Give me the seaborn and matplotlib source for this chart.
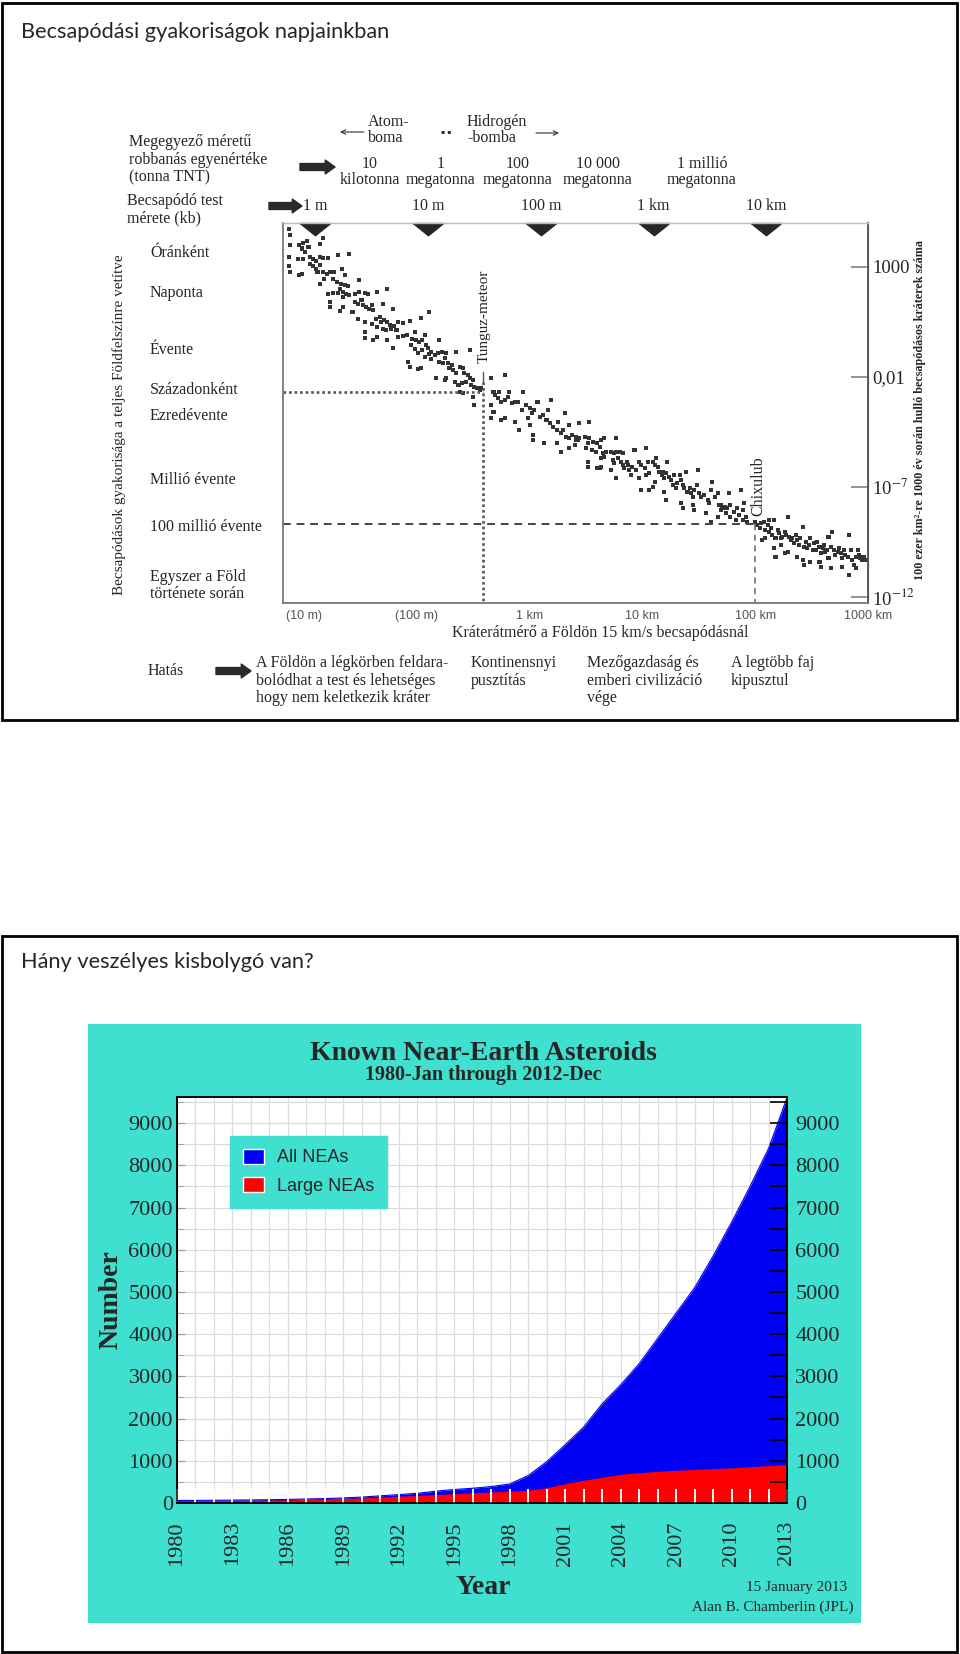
import numpy as np
import pandas as pd
import matplotlib
matplotlib.use("Agg")
import matplotlib.pyplot as plt
import seaborn as sns
from matplotlib.patches import Rectangle, Patch
from matplotlib.transforms import blended_transform_factory
from matplotlib.ticker import MultipleLocator, FixedLocator, NullLocator

sns.set_style("white")
plt.rcParams['font.family'] = ['Liberation Serif', 'DejaVu Serif']
plt.rcParams['mathtext.fontset'] = 'stix'

# ---------------- Panel 1 data: impact-frequency cloud ----------------
# (log10 crater diameter [m], log10 impacts per year)
cloud_small = [(0.87,5.42),(0.88,5.12),(0.88,4.70),(0.87,4.14),(0.87,3.73),(0.88,3.45),(0.96,4.67),(0.99,4.79),(1.03,4.85),(1.04,4.59),(0.98,4.52),(1.01,4.36),(0.95,4.06),(0.99,4.06),(1.05,4.14),(1.08,4.06),(1.11,3.94),(1.14,4.14),(1.17,4.09),(1.21,4.09),(1.30,4.21),(1.40,4.29),(1.14,4.74),(1.17,5.00),(0.98,3.38),(0.96,3.30),(1.05,3.83),(1.08,3.73),(1.11,3.61),(1.14,3.76),(1.12,3.45),(1.17,3.45),(1.20,3.38),(1.23,3.45),(1.27,3.45),(1.34,3.61),(1.36,3.30),(1.26,3.15),(1.29,3.00),(1.33,2.92),(1.36,2.85),(1.39,2.82),(1.14,2.92),(1.18,3.15),(1.21,2.47),(1.26,2.52),(1.30,2.52),(1.32,2.70),(1.35,2.55),(1.37,2.47),(1.40,2.42),(1.45,2.47),(1.49,2.55),(1.54,2.52),(1.57,2.47),(1.65,2.55),(1.74,2.67),(1.49,3.11),(1.35,2.32),(1.23,2.09),(1.23,1.86),(1.32,1.67),(1.35,1.86),(1.45,2.09),(1.48,2.02),(1.51,2.17),(1.52,1.94),(1.55,1.86),(1.58,1.79),(1.61,1.71),(1.60,1.97),(1.70,2.02),(1.79,1.76),(1.43,1.64),(1.48,1.30),(1.54,1.18),(1.60,1.11),(1.64,1.33),(1.67,1.41),(1.68,1.18),(1.71,1.26),(1.74,1.18),(1.76,1.03),(1.77,0.88),(1.80,1.00),(1.82,0.80),(1.83,1.18),(1.88,1.15),(1.94,1.21),(2.04,1.36),(2.11,1.64),(1.65,0.95),(1.70,0.85),(1.73,0.80),(1.54,0.73),(1.54,0.45),(1.61,0.35),(1.65,0.50),(1.74,0.35),(1.79,0.00),(1.83,0.50),(1.88,0.53),(1.91,0.61),(1.96,0.42),(1.98,0.73),(1.99,0.35),(2.02,0.27),(2.05,0.35),(2.07,0.58),(2.08,0.12),(1.95,0.12),(1.98,-0.03),(2.01,-0.21),(2.05,-0.11),(2.10,0.00),(2.11,-0.26),(2.07,-0.41),(1.92,-0.64),(1.94,-0.86),(2.01,-0.97),(2.04,-0.91),(2.13,-0.48)]
cloud_tunguska = [(2.20,0.36),(2.13,-0.17),(2.16,-0.32),(2.19,-0.24),(2.22,-0.17),(2.26,-0.24),(2.25,-0.47),(2.20,-0.62),(2.23,-0.70),(2.28,-0.70),(2.31,-0.77),(2.29,-0.92),(2.32,-1.00),(2.35,-1.15),(2.38,-0.85),(2.41,-0.92),(2.42,-1.15),(2.45,-1.23),(2.47,-1.38),(2.50,-1.45),(2.44,-1.53),(2.40,-1.61),(2.37,-1.68),(2.34,-1.53),(2.26,-1.38),(2.17,-1.38),(2.25,-1.45),(2.47,-0.09),(2.35,-0.17),(2.48,-1.68),(2.51,-1.76),(2.53,-1.83),(2.56,-1.91),(2.57,-1.83),(2.50,-2.21),(2.51,-2.59),(2.41,-2.06),(2.38,-1.98),(2.66,-1.38),(2.78,-1.23),(2.68,-1.98),(2.69,-2.14),(2.72,-2.29),(2.73,-1.98),(2.75,-2.44),(2.78,-2.36),(2.81,-2.21),(2.82,-1.98),(2.84,-2.52),(2.87,-2.44),(2.90,-2.44),(2.93,-2.82),(2.94,-1.98),(2.97,-2.59),(3.00,-2.74),(3.02,-2.97),(3.04,-2.82),(3.07,-2.44),(3.09,-3.12),(3.12,-3.05),(3.15,-3.27),(3.16,-2.82),(3.19,-2.36),(3.18,-3.42),(3.21,-3.58),(3.24,-3.73),(3.25,-3.35),(3.28,-3.88),(3.30,-3.73),(3.31,-2.97),(3.32,-4.03),(3.35,-4.11),(3.38,-3.95),(3.41,-4.03),(3.35,-3.50),(3.43,-4.18),(2.66,-2.59),(2.68,-2.89),(2.66,-3.20),(2.75,-3.27),(2.78,-3.20),(2.87,-3.35),(2.91,-3.73),(2.99,-3.20),(3.00,-3.50),(3.03,-3.95),(3.03,-4.18),(3.13,-4.33),(3.24,-4.33),(3.28,-4.71),(3.35,-4.56),(3.40,-4.41)]
cloud_km = [(3.44,-3.42),(3.53,-3.38),(3.41,-4.18),(3.44,-4.11),(3.49,-4.03),(3.53,-4.11),(3.52,-4.33),(3.56,-4.26),(3.60,-4.33),(3.63,-4.18),(3.66,-4.11),(3.50,-4.56),(3.55,-4.64),(3.59,-4.71),(3.62,-4.48),(3.65,-4.79),(3.66,-4.94),(3.63,-5.02),(3.68,-4.71),(3.52,-5.17),(3.52,-5.39),(3.60,-5.47),(3.63,-5.39),(3.72,-4.71),(3.75,-4.79),(3.77,-4.71),(3.80,-4.71),(3.83,-4.79),(3.77,-4.11),(3.74,-5.09),(3.75,-5.24),(3.78,-5.02),(3.81,-5.17),(3.83,-5.32),(3.84,-5.47),(3.86,-5.17),(3.87,-5.32),(3.88,-5.55),(3.91,-5.39),(3.94,-5.55),(3.93,-4.64),(4.03,-4.56),(3.97,-5.17),(3.99,-5.32),(4.02,-5.47),(4.05,-5.17),(4.06,-5.70),(4.09,-5.17),(4.11,-5.32),(4.12,-5.02),(4.14,-5.39),(4.15,-5.62),(4.17,-5.77),(4.18,-5.62),(4.19,-5.92),(4.21,-5.70),(4.22,-5.17),(4.24,-5.85),(4.25,-6.00),(4.27,-6.23),(4.28,-5.77),(4.30,-6.38),(4.31,-6.15),(4.33,-5.77),(4.34,-6.00),(4.36,-6.23),(4.37,-6.38),(4.39,-5.62),(4.40,-6.53),(4.42,-6.38),(4.43,-6.61),(4.45,-6.76),(4.46,-6.45),(4.48,-6.23),(4.49,-5.55),(4.50,-6.61),(4.52,-6.76),(4.55,-6.68),(4.58,-6.91),(4.59,-7.06),(4.61,-6.45),(4.62,-6.08),(4.64,-6.76),(4.67,-6.61),(4.68,-7.14),(4.70,-7.36),(4.71,-7.29),(3.97,-5.92),(3.99,-6.45),(4.06,-6.45),(4.09,-6.30),(4.19,-6.53),(4.21,-6.91),(4.34,-7.06),(4.36,-7.29),(4.45,-7.14),(4.46,-7.36),(4.56,-7.52),(4.61,-7.89),(4.67,-7.67),(3.77,-5.92),(3.62,-5.47),(3.72,-5.55),(3.90,-5.77),(4.03,-5.77),(4.11,-6.08)]
cloud_large = [(4.70,-7.14),(4.73,-7.21),(4.75,-7.29),(4.78,-7.14),(4.77,-6.61),(4.81,-7.44),(4.84,-7.29),(4.87,-6.45),(4.86,-7.59),(4.89,-7.36),(4.90,-7.06),(4.92,-7.67),(4.93,-7.89),(4.89,-7.82),(4.83,-7.82),(4.78,-7.67),(4.74,-7.52),(5.00,-7.89),(5.02,-8.05),(5.04,-8.20),(5.05,-7.97),(5.08,-7.89),(5.09,-8.27),(5.11,-8.05),(5.12,-8.35),(5.14,-8.20),(5.15,-8.50),(5.17,-7.82),(5.18,-8.65),(5.20,-8.27),(5.21,-8.42),(5.23,-8.65),(5.24,-8.58),(5.26,-8.35),(5.27,-8.50),(5.29,-7.67),(5.30,-8.58),(5.32,-8.73),(5.33,-8.65),(5.34,-8.88),(5.36,-8.50),(5.37,-8.73),(5.39,-8.95),(5.40,-8.65),(5.42,-8.12),(5.43,-9.03),(5.45,-8.80),(5.46,-9.11),(5.48,-8.95),(5.49,-8.65),(5.51,-9.18),(5.52,-8.88),(5.54,-9.18),(5.55,-8.80),(5.57,-9.03),(5.58,-9.33),(5.60,-9.11),(5.61,-8.95),(5.62,-9.26),(5.64,-9.18),(5.65,-8.58),(5.67,-9.03),(5.68,-8.35),(5.70,-9.18),(5.71,-9.41),(5.73,-9.26),(5.74,-9.11),(5.76,-9.33),(5.77,-9.56),(5.79,-9.18),(5.80,-9.41),(5.82,-9.48),(5.83,-8.50),(5.85,-9.18),(5.86,-9.64),(5.88,-9.86),(5.89,-9.48),(5.91,-9.18),(5.92,-9.41),(5.93,-9.56),(5.95,-9.64),(5.96,-9.48),(5.98,-9.64),(5.17,-9.11),(5.18,-9.48),(5.26,-9.33),(5.29,-9.26),(5.37,-9.48),(5.42,-9.64),(5.43,-9.86),(5.49,-9.71),(5.57,-9.71),(5.58,-9.94),(5.65,-9.56),(5.67,-10.02),(5.77,-9.94),(5.83,-10.32),(5.89,-10.02),(5.12,-7.82),(5.09,-8.65),(5.06,-8.73),(5.23,-8.95)]

body_sizes_m = [1, 10, 100, 1000, 10000]
body_labels = ['1 m', '10 m', '100 m', '1 km', '10 km']
crater_per_body_log = 1.1
crater_ticks_m = [10, 100, 1e3, 1e4, 1e5, 1e6]
crater_tick_labels = ['(10 m)', '(100 m)', '1 km', '10 km', '100 km', '1000 km']
freq_tick_log = [2.4, 0.0, -6.1, -10.2]
right_ticks = [1e3, 1e-2, 1e-7, 1e-12]
right_tick_labels = ['1000', '0,01', '10$^{-7}$', '10$^{-12}$']
right_shift_log = -0.7
freq_labels = ['Óránként', 'Naponta', 'Évente', 'Századonként', 'Ezredévente',
               'Millió évente', '100 millió évente', 'Egyszer a Föld\ntörténete során']
freq_label_log = [4.32, 2.5, -0.09, -1.91, -3.09, -6.0, -8.14, -10.8]
tunguska_crater_log = 2.59
tunguska_freq_log = -2.0
chicxulub_crater_log = 5.0
chicxulub_freq_log = -8.0
tnt_labels = ['10\nkilotonna', '1\nmegatonna', '100\nmegatonna', '10 000\nmegatonna', '1 millió\nmegatonna']
effect_labels = ['A Földön a légkörben feldara-\nbolódhat a test és lehetséges\nhogy nem keletkezik kráter',
                 'Kontinensnyi\npusztítás',
                 'Mezőgazdaság és\nemberi civilizáció\nvége',
                 'A legtöbb faj\nkipusztul']

# ---------------- Panel 2 data: known NEAs ----------------
years = list(range(1980, 2014))
all_neas = [60, 62, 65, 68, 72, 78, 85, 95, 105, 120, 140, 170, 200, 230, 280, 320, 350, 390, 450, 650,
            980, 1380, 1800, 2350, 2800, 3300, 3900, 4500, 5100, 5850, 6650, 7500, 8400, 9600]
large_neas = [55, 57, 60, 63, 66, 70, 76, 85, 95, 105, 120, 140, 160, 180, 200, 220, 240, 260, 280, 300,
              360, 460, 540, 610, 680, 720, 750, 775, 795, 815, 835, 860, 885, 910]
year_ticks = list(range(1980, 2014, 3))
count_ticks = list(range(0, 10000, 1000))

# ---------------- figure ----------------
W, H = 960, 1654
fig = plt.figure(figsize=(9.6, 16.54), dpi=100)


def fx(px):
    return px / W


def fy(py):
    return 1 - py / H


def P(px, py):
    return (px / W, 1 - py / H)


# slide frames
for (x0, y0, x1, y1) in [(2, 3, 957, 720), (2, 936, 957, 1652)]:
    fig.add_artist(Rectangle((fx(x0), fy(y1)), fx(x1) - fx(x0), fy(y0) - fy(y1),
                             transform=fig.transFigure, fill=False, ec='black', lw=2.0))

title_font = ['Lato', 'DejaVu Sans']
fig.text(*P(21, 32), 'Becsapódási gyakoriságok napjainkban', fontsize=15.7, family=title_font,
         ha='left', va='center')
fig.text(*P(21, 962), 'Hány veszélyes kisbolygó van?', fontsize=15.7, family=title_font,
         ha='left', va='center')

# ---------- panel 1 ----------
ax1 = fig.add_axes([fx(283), fy(603), fx(868) - fx(283), fy(223) - fy(603)])
ax1.set_xscale('log')
ax1.set_yscale('log')
pts = cloud_small + cloud_tunguska + cloud_km + cloud_large
cloud = pd.DataFrame(pts, columns=['dlog', 'flog'])
cloud['crater_m'] = 10 ** cloud['dlog']
cloud['freq'] = 10 ** cloud['flog']
sns.scatterplot(data=cloud, x='crater_m', y='freq', marker='s', s=8.5, color='#333333',
                edgecolor='none', linewidth=0, ax=ax1, legend=False)
xmin, xmax = 10 ** 0.814, 10 ** 6.0
ymin, ymax = 10 ** -11.59, 10 ** 5.68
ax1.set_xlim(xmin, xmax)
ax1.set_ylim(ymin, ymax)
ax1.set_xlabel('')
ax1.set_ylabel('')
ax1.minorticks_off()

tx = 10 ** tunguska_crater_log
cx = 10 ** chicxulub_crater_log
ax1.plot([xmin, tx], [10 ** tunguska_freq_log] * 2, ls=(0, (1, 1.1)), lw=1.9, color='#555555')
ax1.plot([tx, tx], [10 ** -1.55, ymin], ls=(0, (1, 1.1)), lw=1.9, color='#555555')
ax1.plot([tx, tx], [10 ** -1.09, 10 ** -1.55], lw=1.0, color='#555555')
ax1.plot([xmin, cx], [10 ** chicxulub_freq_log] * 2, ls=(0, (4, 3)), lw=1.4, color='#444444')
ax1.plot([cx, cx], [10 ** chicxulub_freq_log, ymin], ls=(0, (4, 3)), lw=1.1, color='#666666')
ax1.text(tx * 10 ** 0.005, 10 ** 1.45, 'Tunguz-meteor', rotation=90, ha='center', va='center', fontsize=11)
ax1.text(cx * 10 ** 0.03, 10 ** -6.3, 'Chixulub', rotation=90, ha='center', va='center', fontsize=11.5)

ax1.set_xticks(crater_ticks_m)
ax1.set_xticklabels(crater_tick_labels, family=['Liberation Sans', 'DejaVu Sans'], fontsize=9, color='#555555')
ax1.tick_params(axis='x', which='major', direction='in', length=10, width=1.1, color='#777777', pad=5)
ax1.set_yticks([10 ** v for v in freq_tick_log])
ax1.tick_params(axis='y', which='major', direction='in', length=10, width=1.1, color='#666666', labelleft=False)
for side, col, lw in [('left', '#777777', 1.3), ('bottom', '#777777', 1.3), ('top', '#bbbbbb', 1.0), ('right', '#555555', 1.3)]:
    ax1.spines[side].set_color(col)
    ax1.spines[side].set_linewidth(lw)

sec = ax1.secondary_yaxis('right', functions=(lambda y: y * 10 ** right_shift_log, lambda y: y / 10 ** right_shift_log))
sec.yaxis.set_major_locator(FixedLocator(right_ticks))
sec.yaxis.set_minor_locator(NullLocator())
sec.set_yticklabels(right_tick_labels)
sec.tick_params(axis='y', direction='in', length=12, width=1.1, color='#777777', labelsize=13.5, pad=3)
sec.spines['right'].set_color('#555555')

# triangles marking impactor size
tri = [(-1.25, 0.0), (1.25, 0.0), (0.0, -1.0), (-1.25, 0.0)]
tr_top = blended_transform_factory(ax1.transData, ax1.transAxes)
crater_of_body = [b * 10 ** crater_per_body_log for b in body_sizes_m]
ax1.plot(crater_of_body, [1.0] * len(crater_of_body), ls='none', marker=tri, ms=22, color='#262626',
         transform=tr_top, clip_on=False)
for cxv, lab in zip(crater_of_body, body_labels):
    ax1.text(cxv, 1 + 17 / 380, lab, transform=tr_top, ha='center', va='center', fontsize=11.5)

# left frequency labels
tr_left = blended_transform_factory(fig.transFigure, ax1.transData)
for lab, lv in zip(freq_labels, freq_label_log):
    ax1.text(fx(150), 10 ** lv, lab, transform=tr_left, ha='left', va='center', fontsize=11.5, linespacing=1.1)

fig.text(*P(119, 425), 'Becsapódások gyakorisága a teljes Földfelszínre vetítve', rotation=90,
         ha='center', va='center', fontsize=11)
fig.text(*P(920, 410), '100 ezer km²-re 1000 év során hulló becsapódásos kráterek száma', rotation=90,
         ha='center', va='center', fontsize=8.7, weight='bold')
fig.text(*P(600, 633), 'Kráterátmérő a Földön 15 km/s becsapódásnál', ha='center', va='center', fontsize=11.5)

# header rows
fig.text(*P(129, 160), 'Megegyező méretű\nrobbanás egyenértéke\n(tonna TNT)', ha='left', va='center',
         fontsize=11.5, linespacing=1.15)
fig.text(*P(127, 210), 'Becsapódó test\nmérete (kb)', ha='left', va='center', fontsize=11.5, linespacing=1.12)
for xp, lab in zip([370, 441, 518, 598, 702], tnt_labels):
    fig.text(*P(xp, 172), lab, ha='center', va='center', fontsize=11.5, linespacing=1.05)
fig.text(*P(368, 130), 'Atom-\nboma', ha='left', va='center', fontsize=11.5, linespacing=1.0)
fig.text(*P(467, 130), 'Hidrogén\n-bomba', ha='left', va='center', fontsize=11.5, linespacing=1.0)
fig.text(*P(446, 133), '▪ ▪', ha='center', va='center', fontsize=4.5, family=['DejaVu Sans'], color='#333333')

big_arrow = dict(arrowstyle='simple,head_length=0.7,head_width=1.0,tail_width=0.5', color='#2a2a2a',
                 mutation_scale=10, shrinkA=0, shrinkB=0)
thin_arrow = dict(arrowstyle='->', color='#333333', lw=0.8, mutation_scale=8, shrinkA=0, shrinkB=0)
for (x1, x2, yy, props) in [(300, 335, 167, big_arrow), (269, 302, 206, big_arrow), (216, 251, 671, big_arrow),
                            (364, 340, 132, thin_arrow), (536, 559, 133, thin_arrow)]:
    ax1.annotate('', xy=(x2, H - yy), xytext=(x1, H - yy), xycoords='figure pixels',
                 textcoords='figure pixels', arrowprops=props, annotation_clip=False)

fig.text(*P(148, 671), 'Hatás', ha='left', va='center', fontsize=11.5)
for xp, lab in zip([256, 471, 587, 731], effect_labels):
    fig.text(*P(xp, 655), lab, ha='left', va='top', fontsize=11.5, linespacing=1.14)

# ---------- panel 2 ----------
cyan = '#40e0d0'
fig.add_artist(Rectangle((fx(88), fy(1623)), fx(861) - fx(88), fy(1024) - fy(1623),
                         transform=fig.transFigure, facecolor=cyan, ec='none', zorder=-1))
ax2 = fig.add_axes([fx(177), fy(1503), fx(787) - fx(177), fy(1097) - fy(1503)])
ax2.set_facecolor('white')
ax2.set_axisbelow(True)
neas = pd.DataFrame({'year': years, 'all': all_neas, 'large': large_neas})
ax2.fill_between(neas['year'], 0, neas['all'], color='#0000f5', lw=0)
ax2.fill_between(neas['year'], 0, neas['large'], color='#ff0000', lw=0)
sns.lineplot(data=neas, x='year', y='all', color='#0000f5', lw=0.8, ax=ax2)
ax2.set_xlim(1980, 2013)
ax2.set_ylim(0, 9620)
ax2.set_xlabel('')
ax2.set_ylabel('')
ax2.set_xticks(year_ticks)
ax2.xaxis.set_minor_locator(MultipleLocator(1))
ax2.set_yticks(count_ticks)
ax2.yaxis.set_minor_locator(MultipleLocator(500))
ax2.grid(which='both', color='#dcdcdc', lw=0.9)
ax2.tick_params(axis='x', which='both', length=0, labelsize=16, labelrotation=90, pad=13)
ax2.tick_params(axis='y', which='major', direction='in', length=6, color='#999999', labelsize=16, pad=3)
ax2.tick_params(axis='y', which='minor', direction='in', length=5, color='#999999')
for side in ['left', 'bottom', 'top', 'right']:
    ax2.spines[side].set_color('black')
    ax2.spines[side].set_linewidth(1.1)

ax3 = ax2.twinx()
ax3.set_ylim(0, 9620)
ax3.set_yticks(count_ticks)
ax3.yaxis.set_minor_locator(MultipleLocator(500))
ax3.tick_params(axis='y', which='both', direction='in', length=12, width=1.2, color='black', labelsize=16, pad=6)
ax3.xaxis.set_visible(True)
ax3.tick_params(axis='x', which='both', direction='in', length=10, width=1.4, color='white',
                labelbottom=False, bottom=True, top=False)
ax3.grid(False)
for side in ['left', 'bottom', 'top', 'right']:
    ax3.spines[side].set_color('black')
    ax3.spines[side].set_linewidth(1.1)

leg = ax2.legend(handles=[Patch(facecolor='#0000f5', label='All NEAs'), Patch(facecolor='#ff0000', label='Large NEAs')],
                 loc='upper left', bbox_to_anchor=P(230, 1136), bbox_transform=fig.transFigure,
                 frameon=True, fancybox=False, facecolor=cyan, edgecolor=cyan, framealpha=1,
                 prop={'family': ['Liberation Sans', 'DejaVu Sans'], 'size': 13},
                 handlelength=1.2, handleheight=0.9, borderaxespad=0, borderpad=0.7,
                 labelspacing=0.6, handletextpad=0.7)

fig.text(*P(483, 1053), 'Known Near-Earth Asteroids', ha='center', va='center', fontsize=20, weight='bold')
fig.text(*P(483, 1075), '1980-Jan through 2012-Dec', ha='center', va='center', fontsize=14.5, weight='bold')
fig.text(*P(111, 1300), 'Number', rotation=90, ha='center', va='center', fontsize=20, weight='bold')
fig.text(*P(483, 1588), 'Year', ha='center', va='center', fontsize=20, weight='bold')
fig.text(*P(847, 1588), '15 January 2013', ha='right', va='center', fontsize=11)
fig.text(*P(853, 1607), 'Alan B. Chamberlin (JPL)', ha='right', va='center', fontsize=11)

fig.savefig('out.png', dpi=100)
